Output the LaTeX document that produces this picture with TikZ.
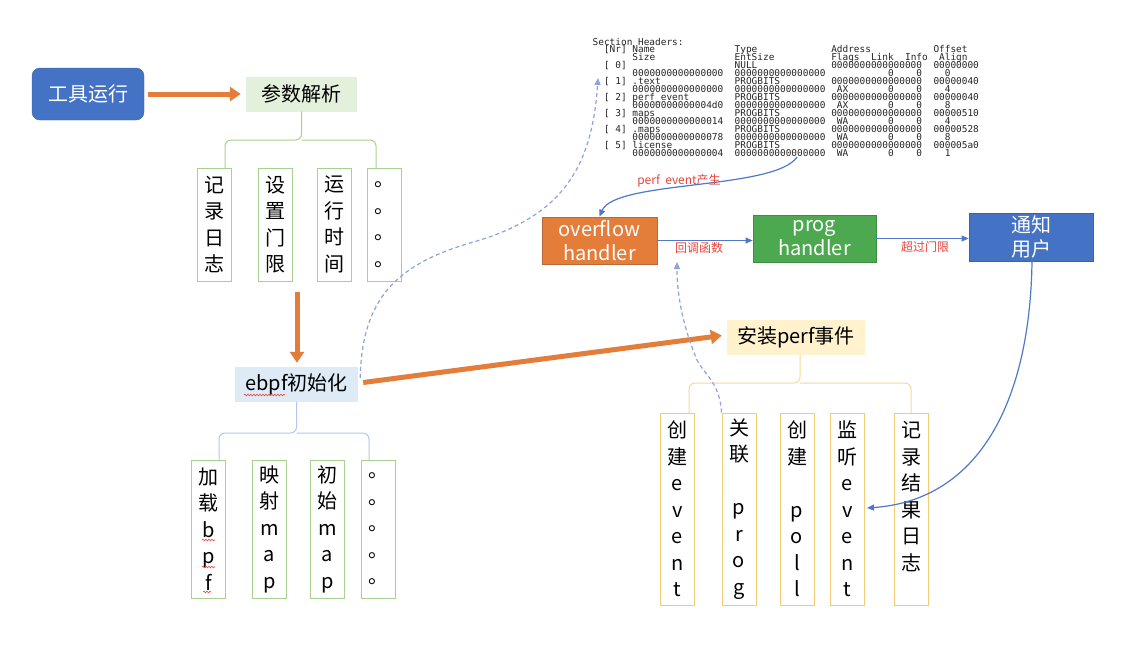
\documentclass[tikz,border=0pt]{standalone}
\usepackage{fontspec}
\setmainfont{Noto Sans CJK SC}
\newfontfamily\monof{DejaVu Sans Mono}
\usetikzlibrary{arrows.meta,calc,decorations.pathmorphing}
\definecolor{cblue}{HTML}{4472C4}
\definecolor{cblueD}{HTML}{3A62AA}
\definecolor{corange}{HTML}{E47C3A}
\definecolor{corangeD}{HTML}{B86A3A}
\definecolor{cgreen}{HTML}{4CA94F}
\definecolor{cgreenD}{HTML}{3E8E42}
\definecolor{gfill}{HTML}{E3F0DB}
\definecolor{gline}{HTML}{A9D08E}
\definecolor{bfill}{HTML}{DEEBF7}
\definecolor{bline}{HTML}{B4C7E7}
\definecolor{yfill}{HTML}{FFF2CC}
\definecolor{yline}{HTML}{F3CB72}
\definecolor{ybrace}{HTML}{F5D99A}
\definecolor{lblue}{HTML}{5078C8}
\definecolor{dashc}{HTML}{8EA3DA}
\definecolor{lred}{HTML}{E8453C}
\newlength\cw
\setlength\cw{5.68pt}
\newcommand\F[2]{\hbox to 0pt{\hskip#1\cw #2\hss}}
\begin{document}
\begin{tikzpicture}[x=1pt,y=-1pt,
  every node/.style={font=\fontsize{20}{24}\selectfont},
  toolbox/.style={fill=cblue, draw=cblueD, text=white, rounded corners=8, minimum width=112, minimum height=52, inner sep=0},
  headbox/.style={inner sep=0, minimum height=35},
  vbox/.style={draw=#1, line width=1, fill=white, minimum width=34, inner sep=0, align=center, font=\fontsize{20}{26.5}\selectfont},
  flowbox/.style={inner sep=0, align=center, text=white, line width=0.8, font=\fontsize{20}{24}\selectfont},
  orarrow/.style={corange, line width=5, -{Triangle[length=11pt,width=14pt]}},
  bracepath/.style={line width=1, rounded corners=6},
  bl/.style={lblue, line width=1.2, -{Triangle[length=7pt,width=6pt]}},
  dsh/.style={dashc, line width=1.2, dash pattern=on 4pt off 3pt, -{Triangle[length=7pt,width=6pt]}},
  lbl/.style={text=lred, font=\fontsize{12}{14}\selectfont, inner sep=0},
  mono/.style={anchor=base west, inner sep=0, text=black!85, font=\monof\fontsize{9.43}{8}\selectfont},
  wavy/.style={lred, line width=0.6, decorate, decoration={snake, amplitude=0.8pt, segment length=3pt}}
]
\fill[white] (0,0) rectangle (1123,649);
\useasboundingbox (0,0) rectangle (1123,649);

% ---------- left column ----------
\node[toolbox] (tool) at (88,94) {工具运行};
\node[headbox, fill=gfill, minimum width=111] (param) at (301.5,94) {参数解析};
\draw[orarrow] ($(tool.east)+(4,0)$) -- ($(param.west)+(-5,0)$);

\node[vbox=gline, minimum height=113] (a1) at (214.7,224.5) {记\\录\\日\\志};
\node[vbox=gline, minimum height=113] (a2) at (275.5,224.5) {设\\置\\门\\限};
\node[vbox=gline, minimum height=113] (a3) at (334,224.5) {运\\行\\时\\间};
\node[vbox=gline, minimum height=113] (a4) at (384.5,224.5) {。\\。\\。\\。};
\draw[bracepath, gline] (225,168) |- (301.5,140) -- (param.south);
\draw[bracepath, gline] (376,168) |- (301.5,140);

\node[headbox, fill=bfill, minimum width=123] (ebpf) at (296.5,384.5) {ebpf初始化};
\draw[orarrow] ($(ebpf.north)+(0.5,-75)$) -- ($(ebpf.north)+(0.5,-4)$);
\draw[wavy] (244,395) -- (285,395);

\node[vbox=gline, minimum height=138] (c1) at (208.5,529) {加\\载\\b\\p\\f};
\node[vbox=gline, minimum height=138] (c2) at (269.5,529) {映\\射\\m\\a\\p};
\node[vbox=gline, minimum height=138] (c3) at (327.5,529) {初\\始\\m\\a\\p};
\node[vbox=gline, minimum height=138] (c4) at (378,529) {。\\。\\。\\。\\。};
\draw[bracepath, bline] (219,460) |- (296.5,433) -- (ebpf.south);
\draw[bracepath, bline] (369,460) |- (296.5,433);
\draw[wavy] (202,540) -- (215,540);
\draw[wavy] (202,567) -- (215,567);
\draw[wavy] (203,592) -- (211,592);

% ---------- right part ----------
\node[headbox, fill=yfill, minimum width=138] (perf) at (796,337.5) {安装perf事件};
\draw[orarrow] ($(ebpf.east)+(5,-2)$) -- ($(perf.west)+(-5,-2)$);

\node[vbox=yline, minimum height=192] (d1) at (677.5,509) {创\\建\\e\\v\\e\\n\\t};
\node[vbox=yline, minimum height=192] (d2) at (739,509) {关\\联\\[26.5pt]p\\r\\o\\g};
\node[vbox=yline, minimum height=192] (d3) at (797,509) {创\\建\\[26.5pt]p\\o\\l\\l};
\node[vbox=yline, minimum height=192] (d4) at (847.5,509) {监\\听\\e\\v\\e\\n\\t};
\node[vbox=yline, minimum height=192] (d5) at (911,509) {记\\录\\结\\果\\日\\志\\\phantom{t}};
\draw[bracepath, ybrace] (689,413) |- (800,383) -- (800,355);
\draw[bracepath, ybrace] (911,413) |- (800,383);

\node[flowbox, fill=corange, draw=corangeD, minimum width=115, minimum height=47] (ovf) at (599.5,240.5) {overflow\\handler};
\node[flowbox, fill=cgreen, draw=cgreenD, minimum width=123, minimum height=47] (prog) at (814.5,238.5) {prog\\handler};
\node[flowbox, fill=cblue, draw=cblueD, minimum width=124, minimum height=48] (notify) at (1031,237) {通知\\用户};

\draw[bl] (ovf.east) -- (ovf.east -| prog.west);
\node[lbl] (lb1) at (699,248) {回调函数};
\draw[bl] (prog.east) -- (prog.east -| notify.west);
\node[lbl] (lb2) at (925,247) {超过门限};

\coordinate (tabbot) at (797,157);
\draw[bl] (tabbot) .. controls (775,190) and (615,180) .. (ovf.north);
\node[lbl] (lb3) at (679,181) {perf\ \ event产生};

\coordinate (tabtip) at (598,78);
\draw[dsh] ($(ebpf.north east)+(2,11)$) .. controls (362,300) and (395,265) .. (470,243) .. controls (560,218) and (592,170) .. (tabtip);

\coordinate (cbtip) at (677,262);
\draw[dsh] (d2.north west) .. controls (720,380) and (700,372) .. (695,355) .. controls (685,330) and (677,300) .. (cbtip);

\draw[bl] ($(notify.south)+(1,0)$) .. controls (1030,400) and (980,500) .. ($(d4.east)+(2,-1)$);

% ---------- section headers ----------
\node[mono] (r0) at (592,45) {\F{0}{Section Headers:}\hskip68\cw};
\node[mono] (r1) at (592,52.95) {\F{2}{[Nr]}\F{7}{Name}\F{25}{Type}\F{42}{Address}\F{60}{Offset}\hskip68\cw};
\node[mono] (r2) at (592,60.9) {\F{7}{Size}\F{25}{EntSize}\F{42}{Flags}\F{49}{Link}\F{55}{Info}\F{61}{Align}\hskip68\cw};
\node[mono] (r3) at (592,68.85) {\F{2}{[ 0]}\F{25}{NULL}\F{42}{0000000000000000}\F{60}{00000000}\hskip68\cw};
\node[mono] (r4) at (592,76.8) {\F{7}{0000000000000000}\F{25}{0000000000000000}\F{52}{0}\F{57}{0}\F{62}{0}\hskip68\cw};
\node[mono] (r5) at (592,84.75) {\F{2}{[ 1]}\F{7}{.text}\F{25}{PROGBITS}\F{42}{0000000000000000}\F{60}{00000040}\hskip68\cw};
\node[mono] (r6) at (592,92.7) {\F{7}{0000000000000000}\F{25}{0000000000000000}\F{43}{AX}\F{52}{0}\F{57}{0}\F{62}{4}\hskip68\cw};
\node[mono] (r7) at (592,100.65) {\F{2}{[ 2]}\F{7}{perf\_event}\F{25}{PROGBITS}\F{42}{0000000000000000}\F{60}{00000040}\hskip68\cw};
\node[mono] (r8) at (592,108.6) {\F{7}{00000000000004d0}\F{25}{0000000000000000}\F{43}{AX}\F{52}{0}\F{57}{0}\F{62}{8}\hskip68\cw};
\node[mono] (r9) at (592,116.55) {\F{2}{[ 3]}\F{7}{maps}\F{25}{PROGBITS}\F{42}{0000000000000000}\F{60}{00000510}\hskip68\cw};
\node[mono] (r10) at (592,124.5) {\F{7}{0000000000000014}\F{25}{0000000000000000}\F{43}{WA}\F{52}{0}\F{57}{0}\F{62}{4}\hskip68\cw};
\node[mono] (r11) at (592,132.45) {\F{2}{[ 4]}\F{7}{.maps}\F{25}{PROGBITS}\F{42}{0000000000000000}\F{60}{00000528}\hskip68\cw};
\node[mono] (r12) at (592,140.4) {\F{7}{0000000000000078}\F{25}{0000000000000000}\F{43}{WA}\F{52}{0}\F{57}{0}\F{62}{8}\hskip68\cw};
\node[mono] (r13) at (592,148.35) {\F{2}{[ 5]}\F{7}{license}\F{25}{PROGBITS}\F{42}{0000000000000000}\F{60}{000005a0}\hskip68\cw};
\node[mono] (r14) at (592,156.3) {\F{7}{0000000000000004}\F{25}{0000000000000000}\F{43}{WA}\F{52}{0}\F{57}{0}\F{62}{1}\hskip68\cw};
\end{tikzpicture}
\end{document}
